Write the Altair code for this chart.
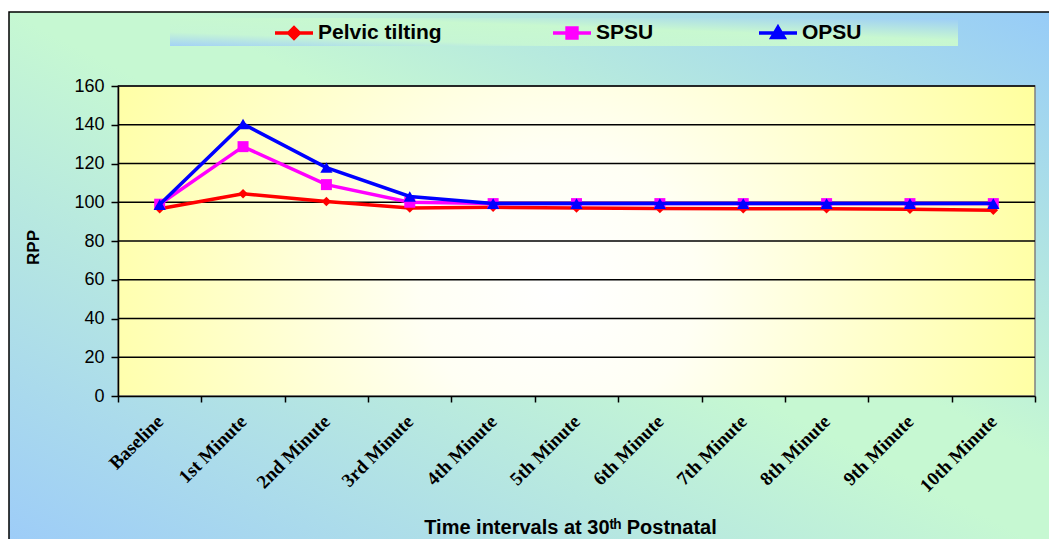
import altair as alt
import pandas as pd

# ---------------- data ----------------
categories = ["Baseline", "1st Minute", "2nd Minute", "3rd Minute", "4th Minute",
              "5th Minute", "6th Minute", "7th Minute", "8th Minute", "9th Minute",
              "10th Minute"]
pelvic_values = [96.6, 104.4, 100.4, 97.0, 97.4, 97.0, 96.8, 96.7, 96.6, 96.4, 95.9]
spsu_values = [99.0, 128.7, 109.1, 100.0, 99.3, 99.3, 99.3, 99.3, 99.3, 99.3, 99.3]
opsu_values = [98.8, 140.4, 117.9, 103.0, 99.3, 99.3, 99.3, 99.3, 99.3, 99.3, 99.3]
series_names = ["Pelvic tilting", "SPSU", "OPSU"]
series_values = [pelvic_values, spsu_values, opsu_values]
series_colors = ["#ff0000", "#ff00ff", "#0000ff"]
y_ticks = [0, 20, 40, 60, 80, 100, 120, 140, 160]
grid_values = [20, 40, 60, 80, 100, 120, 140, 160]

# ---------------- styling ----------------
W, H = 917, 310
PAD = {"left": 110, "top": 78, "right": 14, "bottom": 143}
series_shapes = ["diamond", "square", "triangle-up"]
series_sizes = [90, 121, 150]
legend_symbols = [
    "M-1,0L1,0M0,-0.28L0.28,0L0,0.28L-0.28,0Z",
    "M-1,0L1,0M-0.26,-0.26L0.26,-0.26L0.26,0.26L-0.26,0.26Z",
    "M-1,0L1,0M0,-0.3L0.32,0.24L-0.32,0.24Z",
]
legend_x = [155, 433, 639]
legend_y = -74

one = pd.DataFrame({"k": [0]})

bg = alt.Chart(one).mark_rect(
    fill=alt.LinearGradient(
        gradient="linear",
        stops=[alt.GradientStop(color="#9ccbf9", offset=0),
               alt.GradientStop(color="#c6f8d2", offset=0.5),
               alt.GradientStop(color="#c6f8d2", offset=0.58),
               alt.GradientStop(color="#96cbf8", offset=1)],
        x1=0, y1=1, x2=1, y2=0),
    stroke="black", strokeWidth=1.5,
).encode(x=alt.value(-109), x2=alt.value(945), y=alt.value(-74), y2=alt.value(470))

band = alt.Chart(one).mark_rect(
    fill=alt.LinearGradient(
        gradient="linear",
        stops=[alt.GradientStop(color="#a4d2f6", offset=0),
               alt.GradientStop(color="#c6f6d4", offset=0.25),
               alt.GradientStop(color="#c8f8d0", offset=0.6),
               alt.GradientStop(color="#9ccdf8", offset=1)],
        x1=0, y1=1, x2=1, y2=0),
).encode(x=alt.value(52), x2=alt.value(840), y=alt.value(-68), y2=alt.value(-40))

plot_bg = alt.Chart(one).mark_rect(
    fill=alt.RadialGradient(
        gradient="radial",
        stops=[alt.GradientStop(color="#ffffff", offset=0),
               alt.GradientStop(color="#fffff4", offset=0.25),
               alt.GradientStop(color="#ffff96", offset=1)],
        x1=0.48, y1=0.55, r1=0, x2=0.48, y2=0.55, r2=0.6),
    stroke="#808080", strokeWidth=1.5,
).encode(x=alt.value(0), x2=alt.value(W), y=alt.value(0), y2=alt.value(H))

y_scale = alt.Scale(domain=[0, 160], nice=False, zero=True)
y_axis = alt.Axis(
    values=y_ticks, title="RPP", grid=False, zindex=1,
    titleFont="Liberation Sans", titleFontSize=17, titleFontWeight="bold",
    titleColor="black", titleX=-85, titleY=161, titleBaseline="middle",
    titleAngle=270,
    labelFont="Liberation Sans", labelFontSize=18, labelColor="black",
    labelPadding=7, tickSize=7, tickColor="black", tickWidth=1.5,
    domainColor="black", domainWidth=1.5,
)

x_scale = alt.Scale(type="band", domain=categories, paddingInner=0, paddingOuter=0)
x_axis = alt.Axis(
    title="Time intervals at 30ᵗʰ Postnatal", tickBand="extent", grid=False,
    zindex=1, labelAngle=315, labelAlign="right", labelBaseline="middle",
    labelFont="Liberation Serif", labelFontWeight="bold", labelFontSize=19,
    labelColor="black", labelPadding=16, tickSize=6, tickColor="black",
    tickWidth=1.5, domainColor="black", domainWidth=1.5, labelOverlap=False,
    titleFont="Liberation Sans", titleFontSize=20, titleFontWeight="bold",
    titleColor="black", titleX=452, titleY=137, titleBaseline="alphabetic",
)

grid = alt.Chart(pd.DataFrame({"v": grid_values})).mark_rule(
    color="black", strokeWidth=1.5
).encode(y=alt.Y("v:Q", scale=y_scale, axis=y_axis))

series_layers = []
for i, name in enumerate(series_names):
    df = pd.DataFrame({"cat": categories, "value": series_values[i], "series": name})
    legend = alt.Legend(
        orient="none", legendX=legend_x[i], legendY=legend_y, title=None,
        symbolType=legend_symbols[i], symbolSize=1444, symbolStrokeWidth=3.5,
        symbolFillColor=series_colors[i], symbolStrokeColor=series_colors[i],
        symbolOpacity=1, labelFont="Liberation Sans", labelFontSize=21,
        labelFontWeight="bold", labelColor="black", labelOffset=3, padding=0,
    )
    base = alt.Chart(df).encode(
        x=alt.X("cat:N", scale=x_scale, axis=x_axis, sort=categories, bandPosition=0.5),
        y=alt.Y("value:Q", scale=y_scale, axis=y_axis),
        color=alt.Color("series:N", scale=alt.Scale(domain=[name], range=[series_colors[i]]),
                        legend=legend),
    )
    line = base.mark_line(strokeWidth=3.5)
    pts = base.mark_point(shape=series_shapes[i], filled=True, size=series_sizes[i], opacity=1)
    series_layers.append(alt.layer(line, pts))

chart = alt.layer(bg, band, plot_bg, grid, *series_layers).resolve_scale(
    color="independent"
).properties(
    width=W, height=H, padding=PAD, autosize=alt.AutoSizeParams(type="none"),
).configure_view(strokeWidth=0).configure(background="#ffffff")

chart.save("out.html", embed_options={"renderer": "svg", "actions": False})
